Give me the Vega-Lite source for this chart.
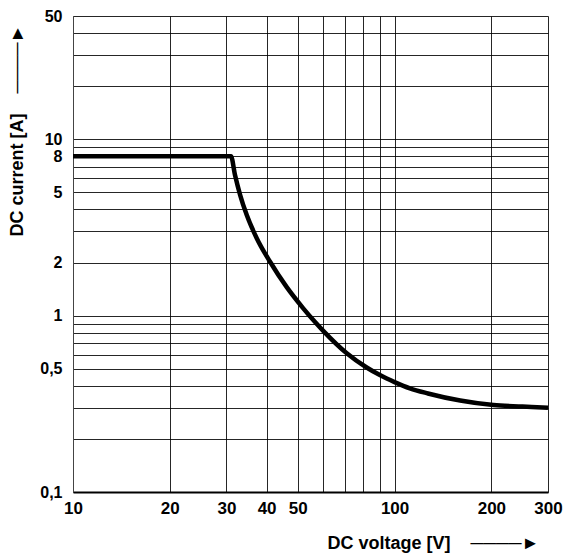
{
  "$schema": "https://vega.github.io/schema/vega-lite/v6.json",
  "width": 475,
  "height": 476,
  "autosize": {"type": "none"},
  "padding": {"left": 73, "top": 16, "right": 15, "bottom": 63},
  "background": "white",
  "config": {
    "view": {"stroke": null},
    "font": "Liberation Sans",
    "axis": {
      "grid": true,
      "gridColor": "#000000",
      "gridWidth": 1,
      "gridOpacity": 0.85,
      "ticks": false,
      "labelFont": "Liberation Sans",
      "labelFontWeight": "bold",
      "labelFontSize": 17,
      "labelColor": "#000000",
      "labelOverlap": false,
      "labelFlush": false,
      "titleFont": "Liberation Sans",
      "titleFontWeight": "bold",
      "titleFontSize": 18,
      "titleColor": "#000000"
    }
  },
  "data": {
    "values": [
      {"voltage": 10, "current": 8},
      {"voltage": 31, "current": 8},
      {"voltage": 31.9, "current": 6.27},
      {"voltage": 33.1, "current": 4.83},
      {"voltage": 34.7, "current": 3.72},
      {"voltage": 37.3, "current": 2.74},
      {"voltage": 41.0, "current": 2.02},
      {"voltage": 46.2, "current": 1.45},
      {"voltage": 52.0, "current": 1.1},
      {"voltage": 56.5, "current": 0.923},
      {"voltage": 60.0, "current": 0.82},
      {"voltage": 71.0, "current": 0.612},
      {"voltage": 81.9, "current": 0.508},
      {"voltage": 90, "current": 0.46},
      {"voltage": 100, "current": 0.42},
      {"voltage": 111.6, "current": 0.387},
      {"voltage": 127, "current": 0.362},
      {"voltage": 160, "current": 0.33},
      {"voltage": 203, "current": 0.311},
      {"voltage": 250, "current": 0.305},
      {"voltage": 300, "current": 0.3}
    ]
  },
  "mark": {"type": "line", "color": "#000000", "strokeWidth": 4.5, "strokeCap": "butt", "strokeJoin": "round", "interpolate": "monotone"},
  "encoding": {
    "x": {
      "field": "voltage",
      "type": "quantitative",
      "scale": {"type": "log", "domain": [10, 300], "nice": false},
      "axis": {
        "values": [10, 20, 30, 40, 50, 60, 70, 80, 90, 100, 200, 300],
        "labelExpr": "indexof([10,20,30,40,50,100,200,300], datum.value) >= 0 ? format(datum.value, 'd') : ''",
        "labelPadding": 8,
        "domainColor": "#000000",
        "domainWidth": 2,
        "title": "DC voltage [V]\u00a0\u00a0\u00a0\u00a0────►",
        "titleX": 360,
        "titleY": 51,
        "titleAlign": "center",
        "titleBaseline": "middle"
      }
    },
    "y": {
      "field": "current",
      "type": "quantitative",
      "scale": {"type": "log", "domain": [0.1, 50], "nice": false},
      "axis": {
        "values": [0.1, 0.2, 0.3, 0.4, 0.5, 0.6, 0.7, 0.8, 0.9, 1, 2, 3, 4, 5, 6, 7, 8, 9, 10, 20, 30, 40, 50],
        "labelExpr": "datum.value == 0.1 ? '0,1' : datum.value == 0.5 ? '0,5' : indexof([1,2,5,8,10,50], datum.value) >= 0 ? format(datum.value, 'd') : ''",
        "labelFontSize": 16,
        "labelPadding": 11,
        "domainColor": "#444444",
        "domainWidth": 1,
        "title": "DC current [A]\u00a0\u00a0\u00a0\u00a0────►",
        "titleX": -56,
        "titleY": 114,
        "titleAngle": -90,
        "titleAlign": "center",
        "titleBaseline": "middle"
      }
    }
  }
}
